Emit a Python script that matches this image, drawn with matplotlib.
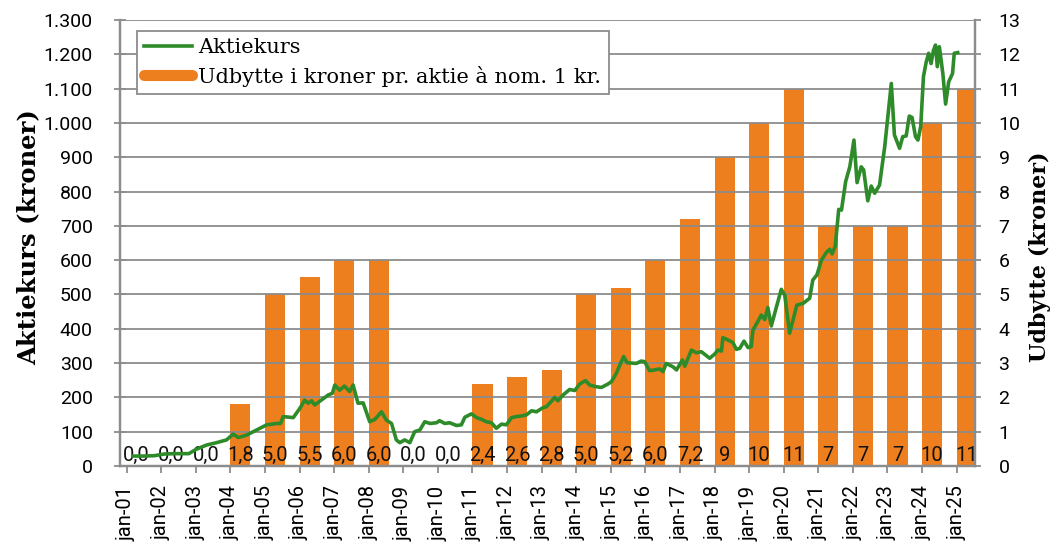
import matplotlib
matplotlib.use("Agg")
import matplotlib.pyplot as plt
from matplotlib.lines import Line2D
from matplotlib.ticker import FuncFormatter, MultipleLocator

# ---- data ----
years = list(range(2001, 2026))
year_labels = ["jan-%02d" % (y % 100) for y in years]
dividend = [0.0, 0.0, 0.0, 1.8, 5.0, 5.5, 6.0, 6.0, 0.0, 0.0, 2.4, 2.6, 2.8,
            5.0, 5.2, 6.0, 7.2, 9, 10, 11, 7, 7, 7, 10, 11]
dividend_labels = ["0,0", "0,0", "0,0", "1,8", "5,0", "5,5", "6,0", "6,0", "0,0",
                   "0,0", "2,4", "2,6", "2,8", "5,0", "5,2", "6,0", "7,2", "9",
                   "10", "11", "7", "7", "7", "10", "11"]

price_dates = [
    2001.19, 2001.5, 2001.8, 2002.1, 2002.4, 2002.8, 2003.02, 2003.31, 2003.6, 2003.89,
    2004.08, 2004.23, 2004.47, 2004.76, 2005.05, 2005.34, 2005.45, 2005.53, 2005.82, 2006.01,
    2006.15, 2006.25, 2006.35, 2006.44, 2006.59, 2006.83, 2006.95, 2007.02, 2007.16, 2007.3,
    2007.45, 2007.55, 2007.69, 2007.84, 2008.03, 2008.18, 2008.37, 2008.51, 2008.66, 2008.80,
    2008.9, 2009.04, 2009.19, 2009.33, 2009.48, 2009.62, 2009.77, 2009.96, 2010.05, 2010.2,
    2010.34, 2010.54, 2010.68, 2010.78, 2010.97, 2011.12, 2011.26, 2011.4, 2011.55, 2011.69,
    2011.84, 2011.98, 2012.13, 2012.27, 2012.42, 2012.56, 2012.71, 2012.85, 2013.04, 2013.14,
    2013.25, 2013.38, 2013.47, 2013.62, 2013.81, 2013.96, 2014.1, 2014.27, 2014.39, 2014.58,
    2014.73, 2014.92, 2015.02, 2015.16, 2015.26, 2015.37, 2015.47, 2015.74, 2015.88, 2015.98,
    2016.12, 2016.27, 2016.41, 2016.51, 2016.6, 2016.8, 2016.9, 2017.07, 2017.14, 2017.33,
    2017.47, 2017.62, 2017.86, 2018.0, 2018.1, 2018.2, 2018.24, 2018.39, 2018.53, 2018.63,
    2018.73, 2018.85, 2018.97, 2019.06, 2019.11, 2019.25, 2019.35, 2019.45, 2019.54, 2019.64,
    2019.79, 2019.93, 2020.03, 2020.17, 2020.27, 2020.38, 2020.56, 2020.75, 2020.84, 2020.96,
    2021.09, 2021.23, 2021.33, 2021.4, 2021.49, 2021.59, 2021.67, 2021.79, 2021.91, 2022.03,
    2022.12, 2022.24, 2022.31, 2022.43, 2022.53, 2022.63, 2022.77, 2022.92, 2023.01, 2023.11,
    2023.2, 2023.35, 2023.44, 2023.54, 2023.63, 2023.71, 2023.81, 2023.88, 2023.96, 2024.04,
    2024.12, 2024.19, 2024.26, 2024.33, 2024.39, 2024.44, 2024.5, 2024.6, 2024.68, 2024.77,
    2024.88, 2024.93, 2025.03,
]
price_values = [
    29, 29, 30, 35, 36, 36, 49, 61, 68, 76,
    93, 83, 90, 105, 120, 124, 124, 144, 141, 168,
    192, 183, 190, 178, 189, 207, 212, 236, 221, 233,
    217, 236, 183, 184, 129, 136, 158, 134, 124, 76,
    68, 76, 68, 100, 105, 129, 124, 126, 132, 124,
    126, 118, 120, 142, 152, 141, 136, 129, 126, 110,
    122, 120, 141, 144, 146, 149, 161, 158, 170, 173,
    185, 200, 190, 207, 223, 220, 239, 249, 236, 231,
    229, 239, 246, 270, 294, 319, 301, 299, 306, 304,
    278, 280, 283, 275, 299, 289, 280, 309, 291, 338,
    330, 333, 314, 326, 338, 335, 374, 367, 360, 340,
    343, 364, 345, 348, 396, 421, 440, 427, 462, 408,
    464, 515, 498, 387, 426, 469, 474, 489, 542, 557,
    600, 622, 632, 618, 641, 748, 746, 829, 872, 950,
    826, 872, 863, 773, 816, 795, 819, 931, 1018, 1115,
    965, 926, 960, 962, 1020, 1016, 960, 950, 989, 1135,
    1178, 1203, 1173, 1212, 1227, 1164, 1222, 1144, 1055, 1120,
    1144, 1203, 1205,
]

# ---- style ----
GREEN = "#2E8B2A"
ORANGE = "#EE7F1F"
GRID = "#8C8C8C"
TICK_FONT = "Roboto"
SLAB_FONT = "DejaVu Serif"

fig = plt.figure(figsize=(10.54, 5.43), dpi=100)
ax = fig.add_axes([120 / 1054, 1 - 466 / 543, (975 - 120) / 1054, (466 - 20) / 543])
ax2 = ax.twinx()

# bars on right axis
bar_w = 0.58
ax2.bar(years, dividend, width=bar_w, align="edge", color=ORANGE, zorder=1)
for y, lab in zip(years, dividend_labels):
    ax2.text(y + bar_w / 2, 0.32, lab, ha="center", va="center",
             fontsize=14.5, family=TICK_FONT, color="#111111", zorder=3)
ax2.set_ylim(0, 13)
ax2.yaxis.set_major_locator(MultipleLocator(1))

# price line on left axis, drawn above bars
ax.set_zorder(ax2.get_zorder() + 1)
ax.patch.set_visible(False)
ax.plot(price_dates, price_values, color=GREEN, lw=2.6, zorder=4, solid_joinstyle="round")
ax.set_ylim(0, 1300)
ax.yaxis.set_major_locator(MultipleLocator(100))
ax.yaxis.set_major_formatter(FuncFormatter(lambda v, p: f"{int(v):,}".replace(",", ".")))
ax.grid(axis="y", color=GRID, lw=1.3, zorder=0)
ax.set_axisbelow(False)

ax.set_xlim(2000.81, 2025.53)
ax.set_xticks(years)
ax.set_xticklabels(year_labels, rotation=90, fontsize=14.5, family=TICK_FONT)

for a in (ax, ax2):
    for s in a.spines.values():
        s.set_color(GRID)
        s.set_linewidth(1.6)
ax.spines["top"].set_visible(False)
ax2.spines["top"].set_visible(False)

ax.tick_params(axis="x", direction="out", length=5, width=1.3, color=GRID, pad=9)
ax.tick_params(axis="y", direction="inout", length=9, width=1.3, color=GRID,
               labelsize=14, pad=15)
ax2.tick_params(axis="y", direction="out", length=4, width=1.3, color=GRID,
                labelsize=14, pad=13)
for lab in ax.get_yticklabels() + ax2.get_yticklabels():
    lab.set_family(TICK_FONT)

ax.set_ylabel("Aktiekurs (kroner)", family=SLAB_FONT, fontweight="bold", fontsize=17.5)
ax.yaxis.set_label_coords(28 / 1054, 1 - 237 / 543, transform=fig.transFigure)
ax.yaxis.label.set_va("center")
ax2.set_ylabel("Udbytte (kroner)", family=SLAB_FONT, fontweight="bold", fontsize=16)
ax2.yaxis.set_label_coords(1040 / 1054, 1 - 257 / 543, transform=fig.transFigure)
ax2.yaxis.label.set_va("center")

handles = [Line2D([], [], color=GREEN, lw=2.6),
           Line2D([], [], color=ORANGE, lw=8, solid_capstyle="round")]
leg = ax.legend(handles, ["Aktiekurs", "Udbytte i kroner pr. aktie à nom. 1 kr."],
                loc="upper left", bbox_to_anchor=(137 / 1054, 1 - 31 / 543),
                bbox_transform=fig.transFigure, borderaxespad=0, fancybox=False,
                framealpha=1, edgecolor=GRID, prop={"family": SLAB_FONT, "size": 15},
                handlelength=2.3, handletextpad=0.3, labelspacing=0.4, borderpad=0.35)
leg.get_frame().set_linewidth(1.3)
leg.set_zorder(10)

fig.savefig("out.png", dpi=100)
